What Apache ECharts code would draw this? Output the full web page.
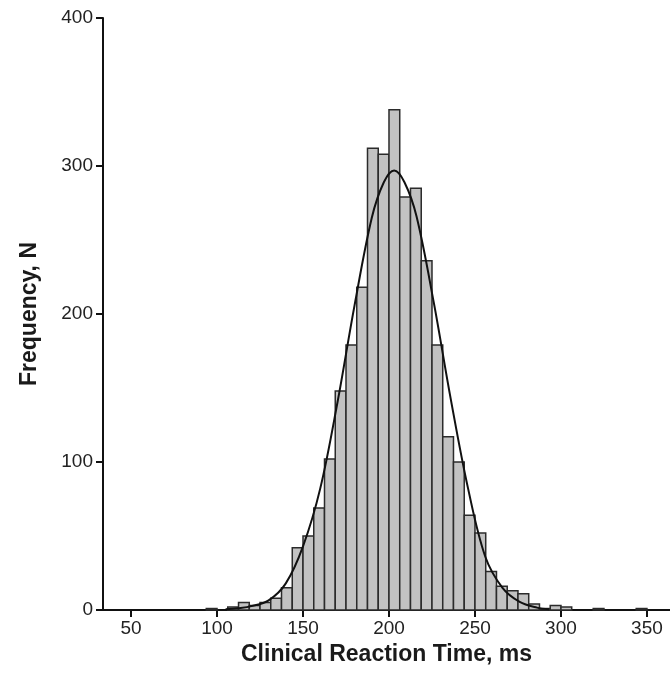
<!DOCTYPE html>
<html>
<head>
<meta charset="utf-8">
<script src="https://cdn.jsdelivr.net/npm/echarts@6/dist/echarts.min.js"></script>
<style>
html, body { margin: 0; padding: 0; background: #fff; }
#chart { width: 670px; height: 674px; }
</style>
</head>
<body>
<div id="chart"></div>
<script>
var chart = echarts.init(document.getElementById('chart'));

// histogram bins (ms), 6.25 ms wide
var binStart = [93.75, 100, 106.25, 112.5, 118.75, 125, 131.25, 137.5, 143.75, 150, 156.25,
    162.5, 168.75, 175, 181.25, 187.5, 193.75, 200, 206.25, 212.5, 218.75, 225, 231.25,
    237.5, 243.75, 250, 256.25, 262.5, 268.75, 275, 281.25, 287.5, 293.75, 300, 306.25,
    312.5, 318.75, 325, 331.25, 337.5, 343.75];
var binEnd = [100, 106.25, 112.5, 118.75, 125, 131.25, 137.5, 143.75, 150, 156.25, 162.5,
    168.75, 175, 181.25, 187.5, 193.75, 200, 206.25, 212.5, 218.75, 225, 231.25, 237.5,
    243.75, 250, 256.25, 262.5, 268.75, 275, 281.25, 287.5, 293.75, 300, 306.25, 312.5,
    318.75, 325, 331.25, 337.5, 343.75, 350];
var counts = [1, 0, 2, 5, 3, 5, 8, 15, 42, 50, 69,
    102, 148, 179, 218, 312, 308, 338, 279, 285, 236, 179, 117,
    100, 64, 52, 26, 16, 13, 11, 4, 1, 3, 2, 0,
    0, 1, 0, 0, 0, 1];

// fitted curve
var curveX = [105, 112, 120, 130, 140, 150, 160, 170, 180, 190, 197, 203,
    209, 216, 226, 236, 246, 256, 266, 276, 286, 293];
var curveY = [0.5, 1.2, 2.6, 6.5, 18, 43, 82, 140, 206, 265, 289, 297,
    289, 266, 208, 142, 82, 36, 15, 5.5, 1.6, 0.5];

var xTicks = [50, 100, 150, 200, 250, 300, 350];

var histData = [];
for (var i = 0; i < counts.length; i++) {
    if (counts[i] > 0) histData.push([binStart[i], binEnd[i], counts[i]]);
}
var curveData = curveX.map(function (x, i) { return [x, curveY[i]]; });

function renderBar(params, api) {
    var p0 = api.coord([api.value(0), api.value(2)]);
    var p1 = api.coord([api.value(1), 0]);
    return {
        type: 'rect',
        shape: { x: p0[0], y: p0[1], width: p1[0] - p0[0], height: p1[1] - p0[1] },
        style: { fill: '#c2c2c2', stroke: '#2b2b2b', lineWidth: 1.5 }
    };
}

var font = 'Liberation Sans, Arial, sans-serif';

chart.setOption({
    backgroundColor: '#fff',
    animation: false,
    textStyle: { fontFamily: font },
    grid: { left: 103, right: 0, top: 18, bottom: 64 },
    xAxis: {
        type: 'value',
        min: 33.7,
        max: 363.4,
        name: 'Clinical Reaction Time, ms',
        nameLocation: 'middle',
        nameGap: 30,
        nameTextStyle: { fontSize: 23, fontWeight: 'bold', color: '#1a1a1a', fontFamily: font },
        axisLine: { show: true, lineStyle: { color: '#111', width: 2 } },
        axisTick: { show: true, length: 7, customValues: xTicks, lineStyle: { color: '#111', width: 2 } },
        axisLabel: { customValues: xTicks, fontSize: 19, color: '#222', margin: 9, fontFamily: font },
        splitLine: { show: false }
    },
    yAxis: {
        type: 'value',
        min: 0,
        max: 400,
        interval: 100,
        name: 'Frequency, N',
        nameLocation: 'middle',
        nameGap: 62,
        nameTextStyle: { fontSize: 23, fontWeight: 'bold', color: '#1a1a1a', fontFamily: font },
        axisLine: { show: true, lineStyle: { color: '#111', width: 2 } },
        axisTick: { show: true, length: 7, lineStyle: { color: '#111', width: 2 } },
        axisLabel: { fontSize: 19, color: '#222', margin: 10, fontFamily: font },
        splitLine: { show: false }
    },
    series: [
        {
            type: 'custom',
            renderItem: renderBar,
            encode: { x: [0, 1], y: 2 },
            data: histData,
            z: 2
        },
        {
            type: 'line',
            data: curveData,
            smooth: 0.35,
            showSymbol: false,
            lineStyle: { color: '#111', width: 2 },
            z: 3
        }
    ]
});
</script>
</body>
</html>
